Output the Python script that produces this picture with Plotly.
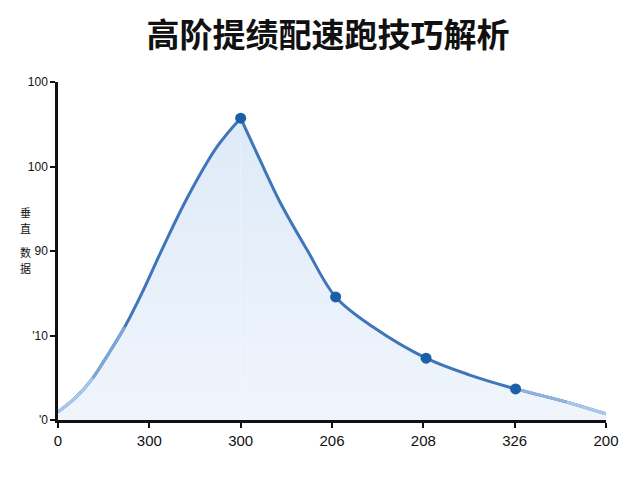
import plotly.graph_objects as go

# curve (x in tick-index units, y on a 0-100 scale)
curve_x = [0.0, 0.2, 0.38, 0.53, 0.73, 0.92, 1.15, 1.42, 1.74, 2.0,
           2.21, 2.43, 2.73, 3.04, 3.45, 4.03, 4.51, 5.01, 5.57, 6.0]
curve_y = [2.4, 6.8, 12.4, 18.6, 27.5, 37.6, 51.1, 66.0, 80.8, 89.3,
           77.0, 64.5, 50.2, 36.4, 27.5, 18.3, 13.3, 9.2, 5.3, 1.8]

marker_x = [2.0, 3.04, 4.03, 5.01]
marker_y = [89.3, 36.4, 18.3, 9.2]

x_ticks = [0, 1, 2, 3, 4, 5, 6]
x_labels = ["0", "300", "300", "206", "208", "326", "200"]
y_ticks = [0, 25, 50, 75, 100]
y_labels = ["'0", "'10", "90", "100", "100"]

title = "高阶提绩配速跑技巧解析"
y_title = "垂直数据"

SMOOTH = 1.0
peak = curve_y.index(max(curve_y))
rise = slice(0, peak + 1)
fall = slice(peak, None)

fig = go.Figure()

# filled area under the curve (two halves so the peak stays sharp)
for sl in (rise, fall):
    fig.add_trace(go.Scatter(
        x=curve_x[sl], y=curve_y[sl], mode="lines",
        line=dict(width=0, shape="spline", smoothing=SMOOTH),
        fill="tozeroy",
        fillgradient=dict(type="vertical",
                          colorscale=[[0, "rgba(240,245,252,1)"], [1, "rgba(222,234,248,1)"]]),
        hoverinfo="skip",
    ))

# main line
for sl in (rise, fall):
    fig.add_trace(go.Scatter(
        x=curve_x[sl], y=curve_y[sl], mode="lines",
        line=dict(color="#3f76b9", width=3, shape="spline", smoothing=SMOOTH),
    ))

# lighter ends of the line (fading towards the axes)
for sl, color in [(slice(0, 5), "#7ea6d7"), (slice(0, 3), "#a9c7ea"),
                  (slice(-3, None), "#8fb3de"), (slice(-2, None), "#a9c7ea")]:
    fig.add_trace(go.Scatter(
        x=curve_x[sl], y=curve_y[sl], mode="lines",
        line=dict(color=color, width=3, shape="spline", smoothing=SMOOTH),
    ))

fig.add_trace(go.Scatter(
    x=marker_x, y=marker_y, mode="markers",
    marker=dict(color="#1c5fa9", size=11),
))

fig.update_layout(
    width=640, height=480,
    margin=dict(l=50, r=42, t=74, b=68),
    paper_bgcolor="white",
    plot_bgcolor="white",
    showlegend=False,
    font=dict(family="Noto Sans CJK SC, Liberation Sans, sans-serif", color="#111111"),
    title=dict(text="<b>" + title + "</b>", x=0.5, xanchor="center", y=0.942, yanchor="middle",
               font=dict(size=33, color="#111111")),
)

fig.update_xaxes(
    range=[0, 6], tickvals=x_ticks, ticktext=x_labels,
    showgrid=False, zeroline=False,
    showline=True, linecolor="#111111", linewidth=2.5,
    ticks="outside", ticklen=5, tickwidth=2, tickcolor="#111111",
    tickfont=dict(size=15, family="Liberation Sans, sans-serif"),
)
fig.update_yaxes(
    range=[0, 100], tickvals=y_ticks, ticktext=y_labels,
    showgrid=False, zeroline=False,
    showline=True, linecolor="#111111", linewidth=2.5,
    ticks="outside", ticklen=5, tickwidth=2, tickcolor="#111111",
    tickfont=dict(size=12, family="Liberation Sans, sans-serif"),
)

# vertical axis title, one character per annotation (pixel rows from the reference)
char_rows = [212, 228, 252, 268]
for ch, row in zip(y_title, char_rows):
    fig.add_annotation(
        text=ch, xref="paper", yref="paper",
        x=(25 - 58) / 548, y=(420 - row) / 338, xanchor="center", yanchor="middle",
        showarrow=False, borderpad=0, font=dict(size=11, color="#111111"),
    )

fig.write_html("out.html")
